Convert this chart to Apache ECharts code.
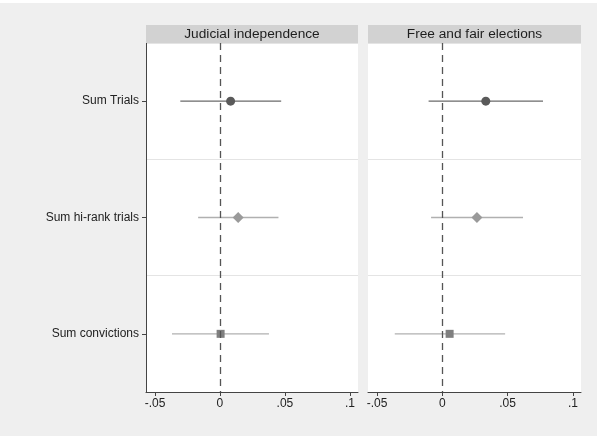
<!DOCTYPE html>
<html>
<head>
<meta charset="utf-8">
<script src="https://cdn.jsdelivr.net/npm/echarts@6/dist/echarts.min.js"></script>
<style>
html,body{margin:0;padding:0;background:#efefef;}
#c{width:597px;height:436px;}
</style>
</head>
<body>
<div id="c"></div>
<script>
var panels = ["Judicial independence", "Free and fair elections"];
var categories = ["Sum Trials", "Sum hi-rank trials", "Sum convictions"];
// estimate, lower and upper bound per category, per panel
var judicialEst = [0.0082, 0.0140, 0.0005];
var judicialLo  = [-0.0305, -0.0168, -0.0369];
var judicialHi  = [0.0471, 0.0450, 0.0377];
var electionsEst = [0.0333, 0.0265, 0.0056];
var electionsLo  = [-0.0105, -0.0086, -0.0364];
var electionsHi  = [0.0771, 0.0618, 0.0481];
var xTicks = [-0.05, 0, 0.05, 0.1];

var markerSymbols = ["circle", "diamond", "rect"];
var markerSizes = [9, 11, 8];
var markerColors = ["#5a5a5a", "#9a9a9a", "#7f7f7f"];
var barColors = ["#6a6a6a", "#b0b0b0", "#b0b0b0"];

function fmt(v){
  if (Math.abs(v) < 1e-9) return "0";
  var s = String(+v.toFixed(3));
  return s.replace(/^0\./, ".").replace(/^-0\./, "-.");
}

var grids = [
  {left:146, right:239, top:43, bottom:44},
  {left:368, right:16, top:43, bottom:44}
];
var ests = [judicialEst, electionsEst], los = [judicialLo, electionsLo], his = [judicialHi, electionsHi];

var xAxes = [], yAxes = [], series = [];
for (var p = 0; p < 2; p++) {
  xAxes.push({
    gridIndex:p, type:'value', min:-0.0569, max:0.1062,
    splitLine:{show:false},
    axisLine:{show:true, onZero:false, lineStyle:{color:'#444', width:1}},
    axisTick:{show:true, length:4, customValues:xTicks, lineStyle:{color:'#444'}},
    axisLabel:{customValues:xTicks, formatter:fmt, color:'#222', fontSize:12, fontFamily:'Liberation Sans, Arial, sans-serif', margin:6}
  });
  yAxes.push({
    gridIndex:p, type:'category', data:categories, inverse:true,
    axisLine:{show:p===0, onZero:false, lineStyle:{color:'#444'}},
    axisTick:{show:p===0, length:4, alignWithLabel:true, lineStyle:{color:'#444'}},
    axisLabel:{show:p===0, color:'#222', fontSize:12, fontFamily:'Liberation Sans, Arial, sans-serif', margin:7},
    splitLine:{show:true, lineStyle:{color:'#e4e4e4', width:1}}
  });
  for (var k = 0; k < categories.length; k++) {
    (function(p,k){
      series.push({
        type:'custom', xAxisIndex:p, yAxisIndex:p,
        data:[[los[p][k], his[p][k], categories[k]]],
        encode:{x:[0,1], y:2},
        renderItem:function(params, api){
          var a = api.coord([api.value(0), api.value(2)]);
          var b = api.coord([api.value(1), api.value(2)]);
          return {type:'line', shape:{x1:a[0], y1:a[1], x2:b[0], y2:b[1]},
                  style:{stroke:barColors[k], lineWidth:1.3}};
        },
        z:2, silent:true
      });
      series.push({
        type:'scatter', xAxisIndex:p, yAxisIndex:p,
        data:[[ests[p][k], categories[k]]],
        symbol:markerSymbols[k], symbolSize:markerSizes[k],
        itemStyle:{color:markerColors[k], opacity:1},
        z:4, silent:true
      });
    })(p,k);
  }
  series.push({
    type:'scatter', xAxisIndex:p, yAxisIndex:p, data:[], silent:true,
    markLine:{silent:true, symbol:['none','none'], label:{show:false},
      lineStyle:{color:'#555', type:[7,5], width:1.3},
      data:[{xAxis:0}]},
    z:3
  });
}

var graphics = [
  {type:'rect', shape:{x:0,y:0,width:597,height:3}, style:{fill:'#ffffff'}, z:-1}
];
for (var p2 = 0; p2 < 2; p2++) {
  var gx = p2 === 0 ? 146 : 368, gw = p2 === 0 ? 212 : 213;
  graphics.push({type:'rect', shape:{x:gx, y:43, width:gw, height:349}, style:{fill:'#ffffff'}, z:-1});
  graphics.push({type:'rect', shape:{x:gx, y:25, width:gw, height:18}, style:{fill:'#d2d2d2'}, z:1});
  graphics.push({type:'text', x:gx+gw/2, y:34, style:{text:panels[p2], fill:'#1e1e1e', fontSize:13.7,
    fontFamily:'Liberation Sans, Arial, sans-serif', align:'center', verticalAlign:'middle'}, z:2});
}

var chart = echarts.init(document.getElementById('c'), null, {renderer:'canvas'});
chart.setOption({
  backgroundColor:'#efefef',
  animation:false,
  grid:grids,
  xAxis:xAxes,
  yAxis:yAxes,
  series:series,
  graphic:graphics
});
</script>
</body>
</html>
